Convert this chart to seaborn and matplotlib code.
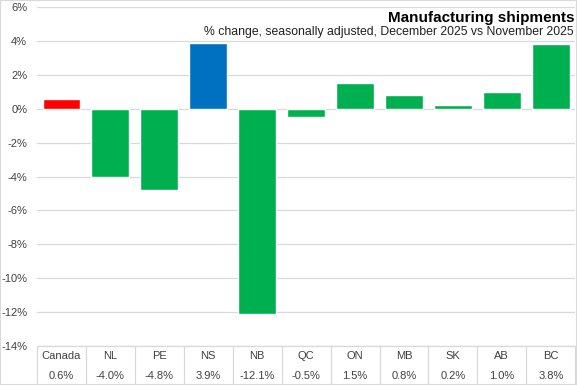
import matplotlib
matplotlib.use("Agg")
import matplotlib.pyplot as plt
import matplotlib.transforms as mtransforms
import seaborn as sns
import pandas as pd

regions = ["Canada", "NL", "PE", "NS", "NB", "QC", "ON", "MB", "SK", "AB", "BC"]
changes = [0.6, -4.0, -4.8, 3.9, -12.1, -0.5, 1.5, 0.8, 0.2, 1.0, 3.8]
bar_colors = ["#FF0000", "#00B050", "#00B050", "#0070C0", "#00B050", "#00B050",
              "#00B050", "#00B050", "#00B050", "#00B050", "#00B050"]
yticks = list(range(-14, 7, 2))

sns.set_style("white")
plt.rcParams["font.family"] = ["Liberation Sans", "DejaVu Sans"]

df = pd.DataFrame({"region": regions, "change": changes})

fig = plt.figure(figsize=(5.77, 3.85), dpi=100)
ax = fig.add_axes([0.064, 0.101, 0.933, 0.881])

sns.barplot(data=df, x="region", y="change", hue="region",
            palette=dict(zip(regions, bar_colors)), legend=False,
            width=0.77, saturation=1, ax=ax, zorder=3)

ax.set_ylim(-14, 6)
ax.set_yticks(yticks)
ax.set_yticklabels([f"{t}%" for t in yticks], fontsize=8, color="#404040")
ax.yaxis.grid(True, color="#D9D9D9", linewidth=0.9, zorder=0)
ax.set_xlim(-0.5, len(regions) - 0.5)
ax.set_xticks([])
ax.set_xlabel("")
ax.set_ylabel("")
ax.tick_params(axis="y", length=0, pad=7)
for s in ax.spines.values():
    s.set_visible(False)

# table under the chart
trans = mtransforms.blended_transform_factory(ax.transData, ax.transAxes)
for i, (r, v) in enumerate(zip(regions, changes)):
    ax.text(i, -0.028, r, transform=trans, ha="center", va="center",
            fontsize=8, color="#404040")
    ax.text(i, -0.087, f"{v:.1f}%", transform=trans, ha="center", va="center",
            fontsize=8, color="#404040")
for i in range(len(regions) + 1):
    ax.plot([i - 0.5, i - 0.5], [0, -0.12], transform=trans, color="#D9D9D9",
            linewidth=0.9, clip_on=False)
ax.plot([-0.5, len(regions) - 0.5], [0, 0], transform=trans, color="#D9D9D9",
        linewidth=0.9, clip_on=False)

fig.text(0.995, 0.953, "Manufacturing shipments", ha="right", va="center",
         fontsize=11, fontweight="bold", color="black")
fig.text(0.995, 0.917, "% change, seasonally adjusted, December 2025 vs November 2025",
         ha="right", va="center", fontsize=8.8, color="#202020")

fig.patches.append(plt.Rectangle((0, 0), 1, 1, transform=fig.transFigure,
                                 fill=False, edgecolor="#D9D9D9", linewidth=1.5))

fig.savefig("out.png", dpi=100)
